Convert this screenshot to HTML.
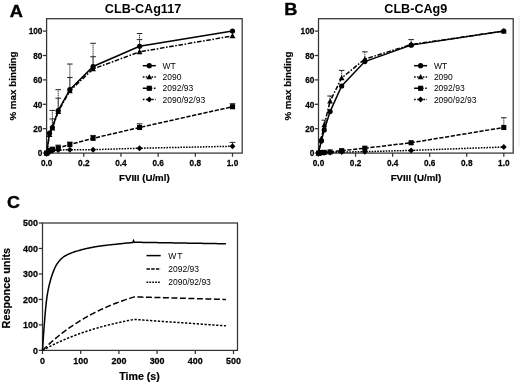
<!DOCTYPE html>
<html><head><meta charset="utf-8"><title>Figure</title>
<style>html,body{margin:0;padding:0;background:#fff}svg{display:block;filter:blur(0.35px)}text{font-family:"Liberation Sans", sans-serif;fill:#000}.tk{font-size:9.4px;font-weight:bold;stroke:#000;stroke-width:0.25px}.ti{font-size:12.6px;font-weight:bold}.le{font-size:16px;font-weight:bold;stroke:#000;stroke-width:0.35px}.ax{font-size:9.8px;font-weight:bold;stroke:#000;stroke-width:0.2px}.lg{font-size:8.5px}</style></head><body>
<svg width="520" height="385" viewBox="0 0 520 385">
<rect width="520" height="385" fill="#fff"/>
<g>
<rect x="46.6" y="18.7" width="195.6" height="134.4" fill="none" stroke="#333" stroke-width="1.25"/>
<line x1="42.8" y1="153.1" x2="46.6" y2="153.1" stroke="#333" stroke-width="1.25"/>
<text transform="translate(42.4,156.4) scale(0.875,1)" text-anchor="end" class="tk">0</text>
<line x1="42.8" y1="128.7" x2="46.6" y2="128.7" stroke="#333" stroke-width="1.25"/>
<text transform="translate(42.4,132) scale(0.875,1)" text-anchor="end" class="tk">20</text>
<line x1="42.8" y1="104.3" x2="46.6" y2="104.3" stroke="#333" stroke-width="1.25"/>
<text transform="translate(42.4,107.6) scale(0.875,1)" text-anchor="end" class="tk">40</text>
<line x1="42.8" y1="79.9" x2="46.6" y2="79.9" stroke="#333" stroke-width="1.25"/>
<text transform="translate(42.4,83.2) scale(0.875,1)" text-anchor="end" class="tk">60</text>
<line x1="42.8" y1="55.5" x2="46.6" y2="55.5" stroke="#333" stroke-width="1.25"/>
<text transform="translate(42.4,58.8) scale(0.875,1)" text-anchor="end" class="tk">80</text>
<line x1="42.8" y1="31.1" x2="46.6" y2="31.1" stroke="#333" stroke-width="1.25"/>
<text transform="translate(42.4,34.4) scale(0.875,1)" text-anchor="end" class="tk">100</text>
<line x1="46.6" y1="153.1" x2="46.6" y2="156.7" stroke="#333" stroke-width="1.25"/>
<text transform="translate(46.6,165.5) scale(0.875,1)" text-anchor="middle" class="tk">0.0</text>
<line x1="83.78" y1="153.1" x2="83.78" y2="156.7" stroke="#333" stroke-width="1.25"/>
<text transform="translate(83.78,165.5) scale(0.875,1)" text-anchor="middle" class="tk">0.2</text>
<line x1="120.96" y1="153.1" x2="120.96" y2="156.7" stroke="#333" stroke-width="1.25"/>
<text transform="translate(120.96,165.5) scale(0.875,1)" text-anchor="middle" class="tk">0.4</text>
<line x1="158.14" y1="153.1" x2="158.14" y2="156.7" stroke="#333" stroke-width="1.25"/>
<text transform="translate(158.14,165.5) scale(0.875,1)" text-anchor="middle" class="tk">0.6</text>
<line x1="195.32" y1="153.1" x2="195.32" y2="156.7" stroke="#333" stroke-width="1.25"/>
<text transform="translate(195.32,165.5) scale(0.875,1)" text-anchor="middle" class="tk">0.8</text>
<line x1="232.5" y1="153.1" x2="232.5" y2="156.7" stroke="#333" stroke-width="1.25"/>
<text transform="translate(232.5,165.5) scale(0.875,1)" text-anchor="middle" class="tk">1.0</text>
<text x="143" y="12.8" text-anchor="middle" class="ti">CLB-CAg117</text>
<text transform="translate(16.4,17.3) scale(1.14,1)" text-anchor="middle" class="le">A</text>
<text x="144.35" y="181.4" text-anchor="middle" class="ax" style="font-size:9.7px">FVIII (U/ml)</text>
<text transform="translate(16.4,86) rotate(-90)" text-anchor="middle" class="ax">% max binding</text>
<line x1="52.36" y1="127.48" x2="52.36" y2="110.4" stroke="#222" stroke-width="0.95" stroke-dasharray="1.3 0.7"/>
<line x1="49.56" y1="110.4" x2="55.16" y2="110.4" stroke="#222" stroke-width="1"/>
<line x1="58.22" y1="110.4" x2="58.22" y2="89.66" stroke="#222" stroke-width="0.95" stroke-dasharray="1.3 0.7"/>
<line x1="55.42" y1="89.66" x2="61.02" y2="89.66" stroke="#222" stroke-width="1"/>
<line x1="69.84" y1="89.66" x2="69.84" y2="64.04" stroke="#222" stroke-width="0.95" stroke-dasharray="1.3 0.7"/>
<line x1="67.04" y1="64.04" x2="72.64" y2="64.04" stroke="#222" stroke-width="1"/>
<line x1="93.08" y1="66.48" x2="93.08" y2="43.3" stroke="#222" stroke-width="0.95" stroke-dasharray="1.3 0.7"/>
<line x1="90.28" y1="43.3" x2="95.88" y2="43.3" stroke="#222" stroke-width="1"/>
<line x1="139.55" y1="46.35" x2="139.55" y2="33.54" stroke="#222" stroke-width="0.95" stroke-dasharray="1.3 0.7"/>
<line x1="136.75" y1="33.54" x2="142.35" y2="33.54" stroke="#222" stroke-width="1"/>
<line x1="52.36" y1="127.48" x2="52.36" y2="118.94" stroke="#222" stroke-width="0.95" stroke-dasharray="1.3 0.7"/>
<line x1="49.56" y1="118.94" x2="55.16" y2="118.94" stroke="#222" stroke-width="1"/>
<line x1="58.22" y1="111.62" x2="58.22" y2="98.2" stroke="#222" stroke-width="0.95" stroke-dasharray="1.3 0.7"/>
<line x1="55.42" y1="98.2" x2="61.02" y2="98.2" stroke="#222" stroke-width="1"/>
<line x1="69.84" y1="90.88" x2="69.84" y2="77.46" stroke="#222" stroke-width="0.95" stroke-dasharray="1.3 0.7"/>
<line x1="67.04" y1="77.46" x2="72.64" y2="77.46" stroke="#222" stroke-width="1"/>
<line x1="93.08" y1="68.92" x2="93.08" y2="56.72" stroke="#222" stroke-width="0.95" stroke-dasharray="1.3 0.7"/>
<line x1="90.28" y1="56.72" x2="95.88" y2="56.72" stroke="#222" stroke-width="1"/>
<line x1="139.55" y1="51.84" x2="139.55" y2="39.64" stroke="#222" stroke-width="0.95" stroke-dasharray="1.3 0.7"/>
<line x1="136.75" y1="39.64" x2="142.35" y2="39.64" stroke="#222" stroke-width="1"/>
<line x1="93.08" y1="138.46" x2="93.08" y2="135.41" stroke="#222" stroke-width="0.95" stroke-dasharray="1.3 0.7"/>
<line x1="90.28" y1="135.41" x2="95.88" y2="135.41" stroke="#222" stroke-width="1"/>
<line x1="139.55" y1="127.48" x2="139.55" y2="123.82" stroke="#222" stroke-width="0.95" stroke-dasharray="1.3 0.7"/>
<line x1="136.75" y1="123.82" x2="142.35" y2="123.82" stroke="#222" stroke-width="1"/>
<line x1="232.5" y1="106.74" x2="232.5" y2="103.69" stroke="#222" stroke-width="0.95" stroke-dasharray="1.3 0.7"/>
<line x1="229.7" y1="103.69" x2="235.3" y2="103.69" stroke="#222" stroke-width="1"/>
<line x1="232.5" y1="146.27" x2="232.5" y2="142.36" stroke="#222" stroke-width="0.95" stroke-dasharray="1.3 0.7"/>
<line x1="229.7" y1="142.36" x2="235.3" y2="142.36" stroke="#222" stroke-width="1"/>
<line x1="58.22" y1="147.61" x2="58.22" y2="145.17" stroke="#222" stroke-width="0.95" stroke-dasharray="1.3 0.7"/>
<line x1="55.42" y1="145.17" x2="61.02" y2="145.17" stroke="#222" stroke-width="1"/>
<line x1="69.84" y1="144.56" x2="69.84" y2="142.12" stroke="#222" stroke-width="0.95" stroke-dasharray="1.3 0.7"/>
<line x1="67.04" y1="142.12" x2="72.64" y2="142.12" stroke="#222" stroke-width="1"/>
<path d="M46.6 153.1 L49.5 133.21 L52.36 127.48 L58.22 110.64 L69.84 89.66 L93.08 66.48 L139.55 46.35 L232.5 31.1" fill="none" stroke="#000" stroke-width="1.5"/>
<circle cx="46.6" cy="153.1" r="2.6" fill="#000"/>
<circle cx="49.5" cy="133.21" r="2.6" fill="#000"/>
<circle cx="52.36" cy="127.48" r="2.6" fill="#000"/>
<circle cx="58.22" cy="110.64" r="2.6" fill="#000"/>
<circle cx="69.84" cy="89.66" r="2.6" fill="#000"/>
<circle cx="93.08" cy="66.48" r="2.6" fill="#000"/>
<circle cx="139.55" cy="46.35" r="2.6" fill="#000"/>
<circle cx="232.5" cy="31.1" r="2.6" fill="#000"/>
<path d="M46.6 153.1 L49.5 134.8 L52.36 128.09 L58.22 111.62 L69.84 90.88 L93.08 68.92 L139.55 51.84 L232.5 35.98" fill="none" stroke="#000" stroke-width="1.5" stroke-dasharray="4.6 1.6 1.6 1.6"/>
<path d="M46.6 150.1L49.5 155.4L43.7 155.4Z" fill="#000"/>
<path d="M49.5 131.8L52.4 137.1L46.6 137.1Z" fill="#000"/>
<path d="M52.36 125.09L55.26 130.39L49.46 130.39Z" fill="#000"/>
<path d="M58.22 108.62L61.12 113.92L55.32 113.92Z" fill="#000"/>
<path d="M69.84 87.88L72.74 93.18L66.94 93.18Z" fill="#000"/>
<path d="M93.08 65.92L95.98 71.22L90.17 71.22Z" fill="#000"/>
<path d="M139.55 48.84L142.45 54.14L136.65 54.14Z" fill="#000"/>
<path d="M232.5 32.98L235.4 38.28L229.6 38.28Z" fill="#000"/>
<path d="M46.6 153.1 L49.5 150.29 L52.36 149.2 L58.22 147.85 L69.84 144.56 L93.08 138.34 L139.55 127.48 L232.5 106.74" fill="none" stroke="#000" stroke-width="1.5" stroke-dasharray="4.2 1.6"/>
<rect x="44.05" y="150.55" width="5.1" height="5.1" fill="#000"/>
<rect x="46.95" y="147.74" width="5.1" height="5.1" fill="#000"/>
<rect x="49.81" y="146.65" width="5.1" height="5.1" fill="#000"/>
<rect x="55.67" y="145.3" width="5.1" height="5.1" fill="#000"/>
<rect x="67.29" y="142.01" width="5.1" height="5.1" fill="#000"/>
<rect x="90.53" y="135.79" width="5.1" height="5.1" fill="#000"/>
<rect x="137" y="124.93" width="5.1" height="5.1" fill="#000"/>
<rect x="229.95" y="104.19" width="5.1" height="5.1" fill="#000"/>
<path d="M46.6 153.1 L49.5 151.88 L52.36 150.66 L58.22 150.05 L69.84 149.68 L93.08 149.68 L139.55 148.22 L232.5 146.27" fill="none" stroke="#000" stroke-width="1.5" stroke-dasharray="1.6 1.2"/>
<path d="M46.6 150.1L49.5 153.1L46.6 156.1L43.7 153.1Z" fill="#000"/>
<path d="M49.5 148.88L52.4 151.88L49.5 154.88L46.6 151.88Z" fill="#000"/>
<path d="M52.36 147.66L55.26 150.66L52.36 153.66L49.46 150.66Z" fill="#000"/>
<path d="M58.22 147.05L61.12 150.05L58.22 153.05L55.32 150.05Z" fill="#000"/>
<path d="M69.84 146.68L72.74 149.68L69.84 152.68L66.94 149.68Z" fill="#000"/>
<path d="M93.08 146.68L95.98 149.68L93.08 152.68L90.17 149.68Z" fill="#000"/>
<path d="M139.55 145.22L142.45 148.22L139.55 151.22L136.65 148.22Z" fill="#000"/>
<path d="M232.5 143.27L235.4 146.27L232.5 149.27L229.6 146.27Z" fill="#000"/>
<line x1="142.8" y1="65.7" x2="155.8" y2="65.7" stroke="#000" stroke-width="1.5"/>
<circle cx="149.3" cy="65.7" r="2.6" fill="#000"/>
<text x="162.6" y="68.7" class="lg">WT</text>
<line x1="142.8" y1="77" x2="155.8" y2="77" stroke="#000" stroke-width="1.5" stroke-dasharray="1.6 1.3"/>
<path d="M149.3 74L152.2 79.3L146.4 79.3Z" fill="#000"/>
<text x="162.6" y="80" class="lg">2090</text>
<line x1="142.8" y1="88.3" x2="155.8" y2="88.3" stroke="#000" stroke-width="1.5" stroke-dasharray="9.5 1.6 1.6 5"/>
<rect x="146.75" y="85.75" width="5.1" height="5.1" fill="#000"/>
<text x="162.6" y="91.3" class="lg">2092/93</text>
<line x1="142.8" y1="99.6" x2="155.8" y2="99.6" stroke="#000" stroke-width="1.5" stroke-dasharray="1.6 1.5"/>
<path d="M149.3 96.6L152.2 99.6L149.3 102.6L146.4 99.6Z" fill="#000"/>
<text x="162.6" y="102.6" class="lg">2090/92/93</text>
</g>
<g>
<rect x="318.5" y="18.7" width="194.7" height="134.4" fill="none" stroke="#333" stroke-width="1.25"/>
<line x1="314.7" y1="153.1" x2="318.5" y2="153.1" stroke="#333" stroke-width="1.25"/>
<text transform="translate(314.3,156.4) scale(0.875,1)" text-anchor="end" class="tk">0</text>
<line x1="314.7" y1="128.7" x2="318.5" y2="128.7" stroke="#333" stroke-width="1.25"/>
<text transform="translate(314.3,132) scale(0.875,1)" text-anchor="end" class="tk">20</text>
<line x1="314.7" y1="104.3" x2="318.5" y2="104.3" stroke="#333" stroke-width="1.25"/>
<text transform="translate(314.3,107.6) scale(0.875,1)" text-anchor="end" class="tk">40</text>
<line x1="314.7" y1="79.9" x2="318.5" y2="79.9" stroke="#333" stroke-width="1.25"/>
<text transform="translate(314.3,83.2) scale(0.875,1)" text-anchor="end" class="tk">60</text>
<line x1="314.7" y1="55.5" x2="318.5" y2="55.5" stroke="#333" stroke-width="1.25"/>
<text transform="translate(314.3,58.8) scale(0.875,1)" text-anchor="end" class="tk">80</text>
<line x1="314.7" y1="31.1" x2="318.5" y2="31.1" stroke="#333" stroke-width="1.25"/>
<text transform="translate(314.3,34.4) scale(0.875,1)" text-anchor="end" class="tk">100</text>
<line x1="318.5" y1="153.1" x2="318.5" y2="156.7" stroke="#333" stroke-width="1.25"/>
<text transform="translate(318.5,165.5) scale(0.875,1)" text-anchor="middle" class="tk">0.0</text>
<line x1="355.56" y1="153.1" x2="355.56" y2="156.7" stroke="#333" stroke-width="1.25"/>
<text transform="translate(355.56,165.5) scale(0.875,1)" text-anchor="middle" class="tk">0.2</text>
<line x1="392.62" y1="153.1" x2="392.62" y2="156.7" stroke="#333" stroke-width="1.25"/>
<text transform="translate(392.62,165.5) scale(0.875,1)" text-anchor="middle" class="tk">0.4</text>
<line x1="429.68" y1="153.1" x2="429.68" y2="156.7" stroke="#333" stroke-width="1.25"/>
<text transform="translate(429.68,165.5) scale(0.875,1)" text-anchor="middle" class="tk">0.6</text>
<line x1="466.74" y1="153.1" x2="466.74" y2="156.7" stroke="#333" stroke-width="1.25"/>
<text transform="translate(466.74,165.5) scale(0.875,1)" text-anchor="middle" class="tk">0.8</text>
<line x1="503.8" y1="153.1" x2="503.8" y2="156.7" stroke="#333" stroke-width="1.25"/>
<text transform="translate(503.8,165.5) scale(0.875,1)" text-anchor="middle" class="tk">1.0</text>
<text x="415.8" y="12.8" text-anchor="middle" class="ti">CLB-CAg9</text>
<text transform="translate(290.9,15.1) scale(1.14,1)" text-anchor="middle" class="le">B</text>
<text x="415.95" y="181.4" text-anchor="middle" class="ax" style="font-size:9.7px">FVIII (U/ml)</text>
<text transform="translate(291.2,86) rotate(-90)" text-anchor="middle" class="ax">% max binding</text>
<line x1="324.24" y1="125.04" x2="324.24" y2="120.16" stroke="#222" stroke-width="0.95" stroke-dasharray="1.3 0.7"/>
<line x1="321.44" y1="120.16" x2="327.04" y2="120.16" stroke="#222" stroke-width="1"/>
<line x1="330.08" y1="101.25" x2="330.08" y2="96" stroke="#222" stroke-width="0.95" stroke-dasharray="1.3 0.7"/>
<line x1="327.28" y1="96" x2="332.88" y2="96" stroke="#222" stroke-width="1"/>
<line x1="341.66" y1="77.95" x2="341.66" y2="70.38" stroke="#222" stroke-width="0.95" stroke-dasharray="1.3 0.7"/>
<line x1="338.86" y1="70.38" x2="344.46" y2="70.38" stroke="#222" stroke-width="1"/>
<line x1="364.82" y1="59.16" x2="364.82" y2="51.84" stroke="#222" stroke-width="0.95" stroke-dasharray="1.3 0.7"/>
<line x1="362.02" y1="51.84" x2="367.62" y2="51.84" stroke="#222" stroke-width="1"/>
<line x1="411.15" y1="44.52" x2="411.15" y2="39.64" stroke="#222" stroke-width="0.95" stroke-dasharray="1.3 0.7"/>
<line x1="408.35" y1="39.64" x2="413.95" y2="39.64" stroke="#222" stroke-width="1"/>
<line x1="503.8" y1="127.48" x2="503.8" y2="117.72" stroke="#222" stroke-width="0.95" stroke-dasharray="1.3 0.7"/>
<line x1="501" y1="117.72" x2="506.6" y2="117.72" stroke="#222" stroke-width="1"/>
<path d="M318.5 153.1 L321.39 140.9 L324.24 129.92 L330.08 111.62 L341.66 86 L364.82 61.6 L411.15 45.13 L503.8 31.1" fill="none" stroke="#000" stroke-width="1.5"/>
<circle cx="318.5" cy="153.1" r="2.6" fill="#000"/>
<circle cx="321.39" cy="140.9" r="2.6" fill="#000"/>
<circle cx="324.24" cy="129.92" r="2.6" fill="#000"/>
<circle cx="330.08" cy="111.62" r="2.6" fill="#000"/>
<circle cx="341.66" cy="86" r="2.6" fill="#000"/>
<circle cx="364.82" cy="61.6" r="2.6" fill="#000"/>
<circle cx="411.15" cy="45.13" r="2.6" fill="#000"/>
<circle cx="503.8" cy="31.1" r="2.6" fill="#000"/>
<path d="M318.5 153.1 L321.39 138.46 L324.24 125.04 L330.08 101.25 L341.66 77.95 L364.82 59.16 L411.15 44.52 L503.8 31.1" fill="none" stroke="#000" stroke-width="1.5" stroke-dasharray="4.6 1.6 1.6 1.6"/>
<path d="M318.5 150.1L321.4 155.4L315.6 155.4Z" fill="#000"/>
<path d="M321.39 135.46L324.29 140.76L318.49 140.76Z" fill="#000"/>
<path d="M324.24 122.04L327.14 127.34L321.34 127.34Z" fill="#000"/>
<path d="M330.08 98.25L332.98 103.55L327.18 103.55Z" fill="#000"/>
<path d="M341.66 74.95L344.56 80.25L338.76 80.25Z" fill="#000"/>
<path d="M364.82 56.16L367.72 61.46L361.93 61.46Z" fill="#000"/>
<path d="M411.15 41.52L414.05 46.82L408.25 46.82Z" fill="#000"/>
<path d="M503.8 28.1L506.7 33.4L500.9 33.4Z" fill="#000"/>
<path d="M318.5 153.1 L321.39 152.61 L324.24 152.37 L330.08 151.88 L341.66 150.66 L364.82 148.22 L411.15 142.73 L503.8 127.48" fill="none" stroke="#000" stroke-width="1.5" stroke-dasharray="4.2 1.6"/>
<rect x="315.95" y="150.55" width="5.1" height="5.1" fill="#000"/>
<rect x="318.84" y="150.06" width="5.1" height="5.1" fill="#000"/>
<rect x="321.69" y="149.82" width="5.1" height="5.1" fill="#000"/>
<rect x="327.53" y="149.33" width="5.1" height="5.1" fill="#000"/>
<rect x="339.11" y="148.11" width="5.1" height="5.1" fill="#000"/>
<rect x="362.27" y="145.67" width="5.1" height="5.1" fill="#000"/>
<rect x="408.6" y="140.18" width="5.1" height="5.1" fill="#000"/>
<rect x="501.25" y="124.93" width="5.1" height="5.1" fill="#000"/>
<path d="M318.5 153.1 L321.39 152.86 L324.24 152.73 L330.08 152.49 L341.66 152.12 L364.82 151.64 L411.15 150.42 L503.8 147" fill="none" stroke="#000" stroke-width="1.5" stroke-dasharray="1.6 1.2"/>
<path d="M318.5 150.1L321.4 153.1L318.5 156.1L315.6 153.1Z" fill="#000"/>
<path d="M321.39 149.86L324.29 152.86L321.39 155.86L318.49 152.86Z" fill="#000"/>
<path d="M324.24 149.73L327.14 152.73L324.24 155.73L321.34 152.73Z" fill="#000"/>
<path d="M330.08 149.49L332.98 152.49L330.08 155.49L327.18 152.49Z" fill="#000"/>
<path d="M341.66 149.12L344.56 152.12L341.66 155.12L338.76 152.12Z" fill="#000"/>
<path d="M364.82 148.64L367.72 151.64L364.82 154.64L361.93 151.64Z" fill="#000"/>
<path d="M411.15 147.42L414.05 150.42L411.15 153.42L408.25 150.42Z" fill="#000"/>
<path d="M503.8 144L506.7 147L503.8 150L500.9 147Z" fill="#000"/>
<line x1="414.1" y1="65.7" x2="427.1" y2="65.7" stroke="#000" stroke-width="1.5"/>
<circle cx="420.6" cy="65.7" r="2.6" fill="#000"/>
<text x="433.9" y="68.7" class="lg">WT</text>
<line x1="414.1" y1="77" x2="427.1" y2="77" stroke="#000" stroke-width="1.5" stroke-dasharray="1.6 1.3"/>
<path d="M420.6 74L423.5 79.3L417.7 79.3Z" fill="#000"/>
<text x="433.9" y="80" class="lg">2090</text>
<line x1="414.1" y1="88.3" x2="427.1" y2="88.3" stroke="#000" stroke-width="1.5" stroke-dasharray="9.5 1.6 1.6 5"/>
<rect x="418.05" y="85.75" width="5.1" height="5.1" fill="#000"/>
<text x="433.9" y="91.3" class="lg">2092/93</text>
<line x1="414.1" y1="99.6" x2="427.1" y2="99.6" stroke="#000" stroke-width="1.5" stroke-dasharray="1.6 1.5"/>
<path d="M420.6 96.6L423.5 99.6L420.6 102.6L417.7 99.6Z" fill="#000"/>
<text x="433.9" y="102.6" class="lg">2090/92/93</text>
</g>
<line x1="519" y1="16" x2="519" y2="147" stroke="#e8e8e8" stroke-width="1"/>
<g>
<rect x="42.5" y="223" width="195" height="127.4" fill="none" stroke="#333" stroke-width="1.25"/>
<line x1="38.7" y1="350.4" x2="42.5" y2="350.4" stroke="#333" stroke-width="1.25"/>
<text transform="translate(37.9,353.7) scale(0.95,1)" text-anchor="end" class="tk">0</text>
<line x1="42.5" y1="350.4" x2="42.5" y2="354" stroke="#333" stroke-width="1.25"/>
<text transform="translate(42.5,364.1) scale(0.95,1)" text-anchor="middle" class="tk">0</text>
<line x1="38.7" y1="324.92" x2="42.5" y2="324.92" stroke="#333" stroke-width="1.25"/>
<text transform="translate(37.9,328.22) scale(0.95,1)" text-anchor="end" class="tk">100</text>
<line x1="80.7" y1="350.4" x2="80.7" y2="354" stroke="#333" stroke-width="1.25"/>
<text transform="translate(80.7,364.1) scale(0.95,1)" text-anchor="middle" class="tk">100</text>
<line x1="38.7" y1="299.44" x2="42.5" y2="299.44" stroke="#333" stroke-width="1.25"/>
<text transform="translate(37.9,302.74) scale(0.95,1)" text-anchor="end" class="tk">200</text>
<line x1="118.9" y1="350.4" x2="118.9" y2="354" stroke="#333" stroke-width="1.25"/>
<text transform="translate(118.9,364.1) scale(0.95,1)" text-anchor="middle" class="tk">200</text>
<line x1="38.7" y1="273.96" x2="42.5" y2="273.96" stroke="#333" stroke-width="1.25"/>
<text transform="translate(37.9,277.26) scale(0.95,1)" text-anchor="end" class="tk">300</text>
<line x1="157.1" y1="350.4" x2="157.1" y2="354" stroke="#333" stroke-width="1.25"/>
<text transform="translate(157.1,364.1) scale(0.95,1)" text-anchor="middle" class="tk">300</text>
<line x1="38.7" y1="248.48" x2="42.5" y2="248.48" stroke="#333" stroke-width="1.25"/>
<text transform="translate(37.9,251.78) scale(0.95,1)" text-anchor="end" class="tk">400</text>
<line x1="195.3" y1="350.4" x2="195.3" y2="354" stroke="#333" stroke-width="1.25"/>
<text transform="translate(195.3,364.1) scale(0.95,1)" text-anchor="middle" class="tk">400</text>
<line x1="38.7" y1="223" x2="42.5" y2="223" stroke="#333" stroke-width="1.25"/>
<text transform="translate(37.9,226.3) scale(0.95,1)" text-anchor="end" class="tk">500</text>
<line x1="233.5" y1="350.4" x2="233.5" y2="354" stroke="#333" stroke-width="1.25"/>
<text transform="translate(233.5,364.1) scale(0.95,1)" text-anchor="middle" class="tk">500</text>
<text transform="translate(13.4,208.3) scale(1.12,1)" text-anchor="middle" class="le">C</text>
<text x="139.5" y="380.3" text-anchor="middle" class="ax" style="font-size:10.6px">Time (s)</text>
<text transform="translate(9.9,288.2) rotate(-90)" text-anchor="middle" class="ax" style="font-size:10.8px">Responce units</text>
<path d="M42.5 350.4 L43.26 338.7 L44.03 327.95 L44.79 318.04 L45.56 309.13 L46.32 301.96 L47.08 296.05 L47.85 291.53 L48.61 287.73 L49.38 284.41 L50.14 281.45 L50.9 278.72 L51.67 276.22 L52.43 273.94 L53.2 271.87 L53.96 269.97 L54.72 268.19 L55.49 266.57 L56.25 265.15 L57.02 263.96 L57.78 262.87 L58.54 261.86 L59.31 260.92 L60.07 260.04 L60.84 259.24 L61.6 258.51 L62.36 257.85 L63.13 257.26 L63.89 256.71 L64.66 256.21 L65.42 255.74 L66.18 255.31 L66.95 254.91 L67.71 254.53 L68.48 254.17 L69.24 253.83 L70 253.5 L70.77 253.19 L71.53 252.9 L72.3 252.61 L73.06 252.34 L73.82 252.07 L74.59 251.82 L75.35 251.57 L76.12 251.33 L76.88 251.1 L77.64 250.87 L78.41 250.65 L79.17 250.42 L79.94 250.21 L80.7 249.99 L81.46 249.79 L82.23 249.58 L82.99 249.38 L83.76 249.19 L84.52 249 L85.28 248.82 L86.05 248.64 L86.81 248.47 L87.58 248.31 L88.34 248.15 L89.1 247.99 L89.87 247.83 L90.63 247.68 L91.4 247.53 L92.16 247.39 L92.92 247.25 L93.69 247.11 L94.45 246.97 L95.22 246.84 L95.98 246.71 L96.74 246.58 L97.51 246.46 L98.27 246.34 L99.04 246.23 L99.8 246.11 L100.56 246.01 L101.33 245.9 L102.09 245.8 L102.86 245.7 L103.62 245.6 L104.38 245.5 L105.15 245.41 L105.91 245.31 L106.68 245.22 L107.44 245.13 L108.2 245.05 L108.97 244.96 L109.73 244.87 L110.5 244.79 L111.26 244.71 L112.02 244.62 L112.79 244.54 L113.55 244.46 L114.32 244.38 L115.08 244.3 L115.84 244.22 L116.61 244.14 L117.37 244.06 L118.14 243.98 L118.9 243.89 L119.66 243.81 L120.43 243.73 L121.19 243.65 L121.96 243.57 L122.72 243.49 L123.48 243.41 L124.25 243.33 L125.01 243.26 L125.78 243.18 L126.54 243.1 L127.3 243.03 L128.07 242.95 L128.83 242.88 L129.6 242.8 L130.36 242.73 L131.12 242.65 L131.89 242.58 L132.65 242.51 L133.53 240.71 L134.18 242.36 L134.94 242.25 L135.71 242.26 L136.47 242.28 L137.24 242.29 L138 242.3 L138.76 242.31 L139.53 242.33 L140.29 242.34 L141.06 242.35 L141.82 242.36 L142.58 242.38 L143.35 242.39 L144.11 242.4 L144.88 242.42 L145.64 242.43 L146.4 242.44 L147.17 242.45 L147.93 242.47 L148.7 242.48 L149.46 242.49 L150.22 242.5 L150.99 242.52 L151.75 242.53 L152.52 242.54 L153.28 242.56 L154.04 242.57 L154.81 242.58 L155.57 242.59 L156.34 242.61 L157.1 242.62 L157.86 242.63 L158.63 242.65 L159.39 242.66 L160.16 242.67 L160.92 242.68 L161.68 242.7 L162.45 242.71 L163.21 242.72 L163.98 242.73 L164.74 242.75 L165.5 242.76 L166.27 242.77 L167.03 242.79 L167.8 242.8 L168.56 242.81 L169.32 242.82 L170.09 242.84 L170.85 242.85 L171.62 242.86 L172.38 242.87 L173.14 242.89 L173.91 242.9 L174.67 242.91 L175.44 242.93 L176.2 242.94 L176.96 242.95 L177.73 242.96 L178.49 242.98 L179.26 242.99 L180.02 243 L180.78 243.01 L181.55 243.03 L182.31 243.04 L183.08 243.05 L183.84 243.07 L184.6 243.08 L185.37 243.09 L186.13 243.1 L186.9 243.12 L187.66 243.13 L188.42 243.14 L189.19 243.15 L189.95 243.17 L190.72 243.18 L191.48 243.19 L192.24 243.21 L193.01 243.22 L193.77 243.23 L194.54 243.24 L195.3 243.26 L196.06 243.27 L196.83 243.28 L197.59 243.29 L198.36 243.31 L199.12 243.32 L199.88 243.33 L200.65 243.35 L201.41 243.36 L202.18 243.37 L202.94 243.38 L203.7 243.4 L204.47 243.41 L205.23 243.42 L206 243.43 L206.76 243.45 L207.52 243.46 L208.29 243.47 L209.05 243.49 L209.82 243.5 L210.58 243.51 L211.34 243.52 L212.11 243.54 L212.87 243.55 L213.64 243.56 L214.4 243.58 L215.16 243.59 L215.93 243.6 L216.69 243.61 L217.46 243.63 L218.22 243.64 L218.98 243.65 L219.75 243.66 L220.51 243.68 L221.28 243.69 L222.04 243.7 L222.8 243.72 L223.57 243.73 L224.33 243.74 L225.1 243.75 L225.86 243.77" fill="none" stroke="#000" stroke-width="1.5"/>
<path d="M42.5 350.4 L43.26 349.65 L44.03 348.9 L44.79 348.16 L45.56 347.42 L46.32 346.7 L47.08 345.98 L47.85 345.27 L48.61 344.56 L49.38 343.87 L50.14 343.18 L50.9 342.49 L51.67 341.81 L52.43 341.14 L53.2 340.48 L53.96 339.82 L54.72 339.17 L55.49 338.52 L56.25 337.88 L57.02 337.25 L57.78 336.63 L58.54 336 L59.31 335.39 L60.07 334.78 L60.84 334.18 L61.6 333.58 L62.36 332.99 L63.13 332.41 L63.89 331.83 L64.66 331.25 L65.42 330.69 L66.18 330.12 L66.95 329.57 L67.71 329.02 L68.48 328.47 L69.24 327.93 L70 327.39 L70.77 326.86 L71.53 326.34 L72.3 325.82 L73.06 325.3 L73.82 324.79 L74.59 324.29 L75.35 323.79 L76.12 323.29 L76.88 322.8 L77.64 322.32 L78.41 321.84 L79.17 321.36 L79.94 320.89 L80.7 320.42 L81.46 319.96 L82.23 319.5 L82.99 319.05 L83.76 318.6 L84.52 318.15 L85.28 317.71 L86.05 317.28 L86.81 316.85 L87.58 316.42 L88.34 316 L89.1 315.58 L89.87 315.16 L90.63 314.75 L91.4 314.34 L92.16 313.94 L92.92 313.54 L93.69 313.15 L94.45 312.76 L95.22 312.37 L95.98 311.98 L96.74 311.6 L97.51 311.23 L98.27 310.86 L99.04 310.49 L99.8 310.12 L100.56 309.76 L101.33 309.4 L102.09 309.05 L102.86 308.7 L103.62 308.35 L104.38 308 L105.15 307.66 L105.91 307.32 L106.68 306.99 L107.44 306.66 L108.2 306.33 L108.97 306.01 L109.73 305.68 L110.5 305.36 L111.26 305.05 L112.02 304.74 L112.79 304.43 L113.55 304.12 L114.32 303.82 L115.08 303.52 L115.84 303.22 L116.61 302.93 L117.37 302.63 L118.14 302.35 L118.9 302.06 L119.66 301.78 L120.43 301.5 L121.19 301.22 L121.96 300.94 L122.72 300.67 L123.48 300.4 L124.25 300.13 L125.01 299.87 L125.78 299.61 L126.54 299.35 L127.3 299.09 L128.07 298.84 L128.83 298.59 L129.6 298.34 L130.36 298.09 L131.12 297.85 L131.89 297.6 L132.65 297.36 L133.42 297.13 L134.18 296.89 L134.94 296.91 L135.71 296.93 L136.47 296.96 L137.24 296.98 L138 297 L138.76 297.02 L139.53 297.04 L140.29 297.06 L141.06 297.08 L141.82 297.1 L142.58 297.13 L143.35 297.15 L144.11 297.17 L144.88 297.19 L145.64 297.21 L146.4 297.23 L147.17 297.25 L147.93 297.27 L148.7 297.3 L149.46 297.32 L150.22 297.34 L150.99 297.36 L151.75 297.38 L152.52 297.4 L153.28 297.42 L154.04 297.44 L154.81 297.47 L155.57 297.49 L156.34 297.51 L157.1 297.53 L157.86 297.55 L158.63 297.57 L159.39 297.59 L160.16 297.61 L160.92 297.64 L161.68 297.66 L162.45 297.68 L163.21 297.7 L163.98 297.72 L164.74 297.74 L165.5 297.76 L166.27 297.78 L167.03 297.81 L167.8 297.83 L168.56 297.85 L169.32 297.87 L170.09 297.89 L170.85 297.91 L171.62 297.93 L172.38 297.95 L173.14 297.97 L173.91 298 L174.67 298.02 L175.44 298.04 L176.2 298.06 L176.96 298.08 L177.73 298.1 L178.49 298.12 L179.26 298.14 L180.02 298.17 L180.78 298.19 L181.55 298.21 L182.31 298.23 L183.08 298.25 L183.84 298.27 L184.6 298.29 L185.37 298.31 L186.13 298.34 L186.9 298.36 L187.66 298.38 L188.42 298.4 L189.19 298.42 L189.95 298.44 L190.72 298.46 L191.48 298.48 L192.24 298.51 L193.01 298.53 L193.77 298.55 L194.54 298.57 L195.3 298.59 L196.06 298.61 L196.83 298.63 L197.59 298.65 L198.36 298.68 L199.12 298.7 L199.88 298.72 L200.65 298.74 L201.41 298.76 L202.18 298.78 L202.94 298.8 L203.7 298.82 L204.47 298.85 L205.23 298.87 L206 298.89 L206.76 298.91 L207.52 298.93 L208.29 298.95 L209.05 298.97 L209.82 298.99 L210.58 299.02 L211.34 299.04 L212.11 299.06 L212.87 299.08 L213.64 299.1 L214.4 299.12 L215.16 299.14 L215.93 299.16 L216.69 299.19 L217.46 299.21 L218.22 299.23 L218.98 299.25 L219.75 299.27 L220.51 299.29 L221.28 299.31 L222.04 299.33 L222.8 299.36 L223.57 299.38 L224.33 299.4 L225.1 299.42 L225.86 299.44" fill="none" stroke="#000" stroke-width="1.5" stroke-dasharray="6 2.5"/>
<path d="M42.5 350.4 L43.26 349.97 L44.03 349.55 L44.79 349.13 L45.56 348.72 L46.32 348.31 L47.08 347.9 L47.85 347.5 L48.61 347.1 L49.38 346.7 L50.14 346.31 L50.9 345.92 L51.67 345.54 L52.43 345.16 L53.2 344.78 L53.96 344.4 L54.72 344.03 L55.49 343.67 L56.25 343.3 L57.02 342.94 L57.78 342.58 L58.54 342.23 L59.31 341.88 L60.07 341.53 L60.84 341.19 L61.6 340.85 L62.36 340.51 L63.13 340.18 L63.89 339.84 L64.66 339.52 L65.42 339.19 L66.18 338.87 L66.95 338.55 L67.71 338.23 L68.48 337.92 L69.24 337.61 L70 337.3 L70.77 336.99 L71.53 336.69 L72.3 336.39 L73.06 336.1 L73.82 335.8 L74.59 335.51 L75.35 335.22 L76.12 334.94 L76.88 334.65 L77.64 334.37 L78.41 334.1 L79.17 333.82 L79.94 333.55 L80.7 333.28 L81.46 333.01 L82.23 332.75 L82.99 332.48 L83.76 332.22 L84.52 331.96 L85.28 331.71 L86.05 331.46 L86.81 331.2 L87.58 330.96 L88.34 330.71 L89.1 330.47 L89.87 330.22 L90.63 329.98 L91.4 329.75 L92.16 329.51 L92.92 329.28 L93.69 329.05 L94.45 328.82 L95.22 328.59 L95.98 328.37 L96.74 328.15 L97.51 327.93 L98.27 327.71 L99.04 327.49 L99.8 327.28 L100.56 327.07 L101.33 326.86 L102.09 326.65 L102.86 326.44 L103.62 326.24 L104.38 326.04 L105.15 325.83 L105.91 325.64 L106.68 325.44 L107.44 325.24 L108.2 325.05 L108.97 324.86 L109.73 324.67 L110.5 324.48 L111.26 324.29 L112.02 324.11 L112.79 323.93 L113.55 323.75 L114.32 323.57 L115.08 323.39 L115.84 323.21 L116.61 323.04 L117.37 322.87 L118.14 322.69 L118.9 322.52 L119.66 322.36 L120.43 322.19 L121.19 322.02 L121.96 321.86 L122.72 321.7 L123.48 321.54 L124.25 321.38 L125.01 321.22 L125.78 321.07 L126.54 320.91 L127.3 320.76 L128.07 320.61 L128.83 320.46 L129.6 320.31 L130.36 320.16 L131.12 320.01 L131.89 319.87 L132.65 319.72 L133.42 319.58 L134.18 319.44 L134.94 319.49 L135.71 319.55 L136.47 319.6 L137.24 319.65 L138 319.71 L138.76 319.76 L139.53 319.81 L140.29 319.87 L141.06 319.92 L141.82 319.97 L142.58 320.03 L143.35 320.08 L144.11 320.13 L144.88 320.18 L145.64 320.24 L146.4 320.29 L147.17 320.34 L147.93 320.4 L148.7 320.45 L149.46 320.5 L150.22 320.56 L150.99 320.61 L151.75 320.66 L152.52 320.72 L153.28 320.77 L154.04 320.82 L154.81 320.88 L155.57 320.93 L156.34 320.98 L157.1 321.03 L157.86 321.09 L158.63 321.14 L159.39 321.19 L160.16 321.25 L160.92 321.3 L161.68 321.35 L162.45 321.41 L163.21 321.46 L163.98 321.51 L164.74 321.57 L165.5 321.62 L166.27 321.67 L167.03 321.72 L167.8 321.78 L168.56 321.83 L169.32 321.88 L170.09 321.94 L170.85 321.99 L171.62 322.04 L172.38 322.1 L173.14 322.15 L173.91 322.2 L174.67 322.26 L175.44 322.31 L176.2 322.36 L176.96 322.41 L177.73 322.47 L178.49 322.52 L179.26 322.57 L180.02 322.63 L180.78 322.68 L181.55 322.73 L182.31 322.79 L183.08 322.84 L183.84 322.89 L184.6 322.95 L185.37 323 L186.13 323.05 L186.9 323.1 L187.66 323.16 L188.42 323.21 L189.19 323.26 L189.95 323.32 L190.72 323.37 L191.48 323.42 L192.24 323.48 L193.01 323.53 L193.77 323.58 L194.54 323.64 L195.3 323.69 L196.06 323.74 L196.83 323.79 L197.59 323.85 L198.36 323.9 L199.12 323.95 L199.88 324.01 L200.65 324.06 L201.41 324.11 L202.18 324.17 L202.94 324.22 L203.7 324.27 L204.47 324.33 L205.23 324.38 L206 324.43 L206.76 324.48 L207.52 324.54 L208.29 324.59 L209.05 324.64 L209.82 324.7 L210.58 324.75 L211.34 324.8 L212.11 324.86 L212.87 324.91 L213.64 324.96 L214.4 325.02 L215.16 325.07 L215.93 325.12 L216.69 325.17 L217.46 325.23 L218.22 325.28 L218.98 325.33 L219.75 325.39 L220.51 325.44 L221.28 325.49 L222.04 325.55 L222.8 325.6 L223.57 325.65 L224.33 325.71 L225.1 325.76 L225.86 325.81" fill="none" stroke="#000" stroke-width="1.5" stroke-dasharray="2.3 1.6"/>
<line x1="146.5" y1="255.6" x2="160.7" y2="255.6" stroke="#000" stroke-width="1.5"/>
<text x="168.3" y="258.6" class="lg" style="letter-spacing:0.9px">WT</text>
<line x1="146.5" y1="268.9" x2="160.7" y2="268.9" stroke="#000" stroke-width="1.5" stroke-dasharray="3.4 1.3"/>
<text x="168.3" y="271.9" class="lg">2092/93</text>
<line x1="146.5" y1="282.2" x2="160.7" y2="282.2" stroke="#000" stroke-width="1.5" stroke-dasharray="1.7 1.2"/>
<text x="168.3" y="285.2" class="lg">2090/92/93</text>
</g>
</svg></body></html>
